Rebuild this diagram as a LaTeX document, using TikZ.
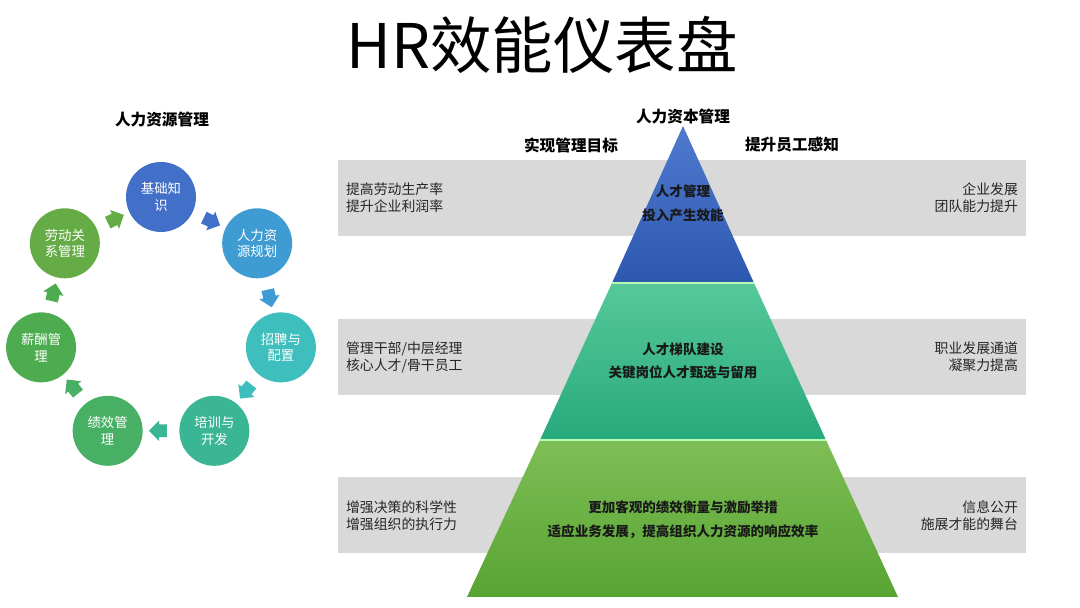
\documentclass[tikz,border=0pt]{standalone}
\usepackage{fontspec}
\setmainfont{Noto Sans CJK SC}
\usepackage{tikz}
\usetikzlibrary{shapes.arrows, positioning}
\definecolor{stageblue}{RGB}{66,112,200}
\definecolor{stagesky}{RGB}{62,156,210}
\definecolor{stageteal}{RGB}{62,190,188}
\definecolor{stagemint}{RGB}{58,182,148}
\definecolor{stagegreen}{RGB}{72,176,100}
\definecolor{stagegrass}{RGB}{78,172,80}
\definecolor{stagelime}{RGB}{102,172,70}
\definecolor{bandgray}{RGB}{217,217,217}
\definecolor{notegray}{RGB}{38,38,38}
\definecolor{topblue}{RGB}{80,122,206}
\definecolor{lowblue}{RGB}{44,88,176}
\definecolor{topmint}{RGB}{86,200,154}
\definecolor{lowmint}{RGB}{40,170,124}
\definecolor{topgreen}{RGB}{126,190,86}
\definecolor{lowgreen}{RGB}{88,164,50}

\begin{document}
\begin{tikzpicture}[
    x=0.02cm, y=0.02cm,
    stage/.style={circle, minimum size=1.4cm, inner sep=0pt, align=center, text=white, font=\fontsize{7.6}{9.5}\selectfont},
    flow/.style={single arrow, minimum height=0.36cm, inner xsep=0pt, inner ysep=0.12cm, single arrow head extend=0.08cm, sloped, allow upside down},
    band/.style={fill=bandgray, rectangle, minimum width=13.76cm, minimum height=1.52cm, inner sep=0pt},
    note/.style={text=notegray, font=\fontsize{7.9}{9.7}\selectfont, inner sep=0pt},
    tiertext/.style={align=center, text=black!90, font=\bfseries\fontsize{7.7}{13.6}\selectfont},
    head/.style={font=\bfseries\fontsize{8.9}{10}\selectfont, inner sep=0pt},
    tierline/.style={draw=white!70!green, line width=0.6pt}
]
    \useasboundingbox (0,0) rectangle (1080,608);

    % Title
    \node (title) [font=\fontsize{35}{40}\selectfont] at (542,563) {HR效能仪表盘};

    % Left cycle
    \node (cyclehead) [head] at (162,488) {人力资源管理};
    \coordinate (hub) at (161,288);
    \node (basics) [stage, fill=stageblue] at ([shift={(90:123)}]hub) {基础知\\识};
    \node (planning) [stage, fill=stagesky] at ([shift={(38.57:123)}]hub) {人力资\\源规划};
    \node (recruit) [stage, fill=stageteal] at ([shift={(-12.86:123)}]hub) {招聘与\\配置};
    \node (training) [stage, fill=stagemint] at ([shift={(-64.29:123)}]hub) {培训与\\开发};
    \node (appraisal) [stage, fill=stagegreen] at ([shift={(-115.71:123)}]hub) {绩效管\\理};
    \node (salary) [stage, fill=stagegrass] at ([shift={(-167.14:123)}]hub) {薪酬管\\理};
    \node (relations) [stage, fill=stagelime] at ([shift={(141.43:123)}]hub) {劳动关\\系管理};

    % Arrows
    \path (basics) -- node [flow, fill=stageblue] {} (planning);
    \path (planning) -- node [flow, fill=stagesky] {} (recruit);
    \path (recruit) -- node [flow, fill=stageteal] {} (training);
    \path (training) -- node [flow, fill=stagemint] {} (appraisal);
    \path (appraisal) -- node [flow, fill=stagegreen] {} (salary);
    \path (salary) -- node [flow, fill=stagegrass] {} (relations);
    \path (relations) -- node [flow, fill=stagelime] {} (basics);

    % Bands
    \node (bandtop) [band] at (682,410) {};
    \node (bandmid) [band] at (682,251) {};
    \node (bandlow) [band] at (682,92.5) {};
    \node (goaltop) [note, align=left, right=0.16cm of bandtop.west] {提高劳动生产率\\提升企业利润率};
    \node (feeltop) [note, align=right, left=0.16cm of bandtop.east] {企业发展\\团队能力提升};
    \node (goalmid) [note, align=left, right=0.16cm of bandmid.west] {管理干部/中层经理\\核心人才/骨干员工};
    \node (feelmid) [note, align=right, left=0.16cm of bandmid.east] {职业发展通道\\凝聚力提高};
    \node (goallow) [note, align=left, right=0.16cm of bandlow.west] {增强决策的科学性\\增强组织的执行力};
    \node (feellow) [note, align=right, left=0.16cm of bandlow.east] {信息公开\\施展才能的舞台};

    % Pyramid
    \shade [top color=topblue, bottom color=lowblue] (683,482) -- (754,325) -- (612,325) -- cycle;
    \shade [top color=topmint, bottom color=lowmint] (612,325) -- (754,325) -- (826,168) -- (540,168) -- cycle;
    \shade [top color=topgreen, bottom color=lowgreen] (540,168) -- (826,168) -- (898,11) -- (467,11) -- cycle;
    \draw [tierline] (612,325) -- (754,325);
    \draw [tierline] (540,168) -- (826,168);

    \node (pyramidhead) [head] at (683,491) {人力资本管理};
    \node (goalhead) [head] at (571,463) {实现管理目标};
    \node (feelhead) [head] at (792,463) {提升员工感知};

    \node (tiertop) [tiertext] at (683,404.5) {人才管理\\投入产生效能};
    \node (tiermid) [tiertext] at (683,247) {人才梯队建设\\关键岗位人才甄选与留用};
    \node (tierlow) [tiertext] at (683,88) {更加客观的绩效衡量与激励举措\\适应业务发展，提高组织人力资源的响应效率};
\end{tikzpicture}
\end{document}
